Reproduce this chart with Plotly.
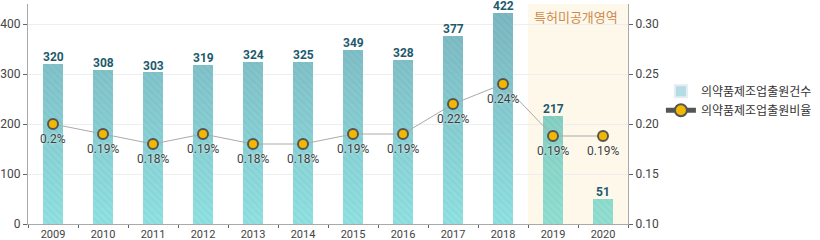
import plotly.graph_objects as go

years = ["2009", "2010", "2011", "2012", "2013", "2014", "2015", "2016", "2017", "2018", "2019", "2020"]
counts = [320, 308, 303, 319, 324, 325, 349, 328, 377, 422, 217, 51]
ratios = [0.20, 0.19, 0.18, 0.19, 0.18, 0.18, 0.19, 0.19, 0.22, 0.24, 0.188, 0.188]
ratio_labels = ["0.2%", "0.19%", "0.18%", "0.19%", "0.18%", "0.18%", "0.19%", "0.19%", "0.22%", "0.24%", "0.19%", "0.19%"]
unpublished = ["2019", "2020"]

bar_name = "의약품제조업출원건수"
line_name = "의약품제조업출원비율"
area_label = "특허미공개영역"

FONT = "Roboto, 'Noto Sans CJK KR', sans-serif"

# gradient colours (bottom -> top of the y scale)
bottom_rgb = (145, 226, 226)
top_rgb = (124, 184, 194)
bottom_rgb_u = (145, 224, 210)
top_rgb_u = (124, 192, 184)

def mix(a, b, t):
    return "rgb(%d,%d,%d)" % tuple(round(a[i] + (b[i] - a[i]) * t) for i in range(3))

fig = go.Figure()

band = 20
ymax = 440
nb = ymax // band
for k in range(nb):
    lo = k * band
    t = min((lo + band / 2) / 420, 1)
    heights = [max(0, min(band, c - lo)) for c in counts]
    cols = [mix(bottom_rgb_u, top_rgb_u, t) if y in unpublished else mix(bottom_rgb, top_rgb, t) for y in years]
    fig.add_trace(go.Bar(
        x=years, y=heights, width=0.4,
        marker=dict(color=cols, line=dict(width=0),
                    pattern=dict(shape="\\", fgcolor="#ffffff", fgopacity=0.08, size=5, solidity=0.25)),
        showlegend=False, hoverinfo="skip", yaxis="y",
    ))

# legend proxy for bars
fig.add_trace(go.Bar(x=[None], y=[None], name=bar_name, marker=dict(color="#b3dde2"), showlegend=True))

fig.add_trace(go.Scatter(
    x=years, y=ratios, yaxis="y2", name=line_name, mode="lines+markers", showlegend=False,
    line=dict(color="#aaaaaa", width=1),
    marker=dict(size=10, color="#f2b800", line=dict(color="#555555", width=2)),
))
# legend proxy for the line
fig.add_trace(go.Scatter(
    x=[None], y=[None], yaxis="y2", name=line_name, mode="lines+markers",
    line=dict(color="#555555", width=2),
    marker=dict(size=10, color="#f2b800", line=dict(color="#555555", width=2)),
))

ann = []
for i, c in enumerate(counts):
    ann.append(dict(x=i, y=c, xref="x", yref="y", text="<b>%d</b>" % c, showarrow=False,
                    yanchor="bottom", yshift=-2, font=dict(family=FONT, size=12, color="#1e5a6e")))
for i, (r, lab) in enumerate(zip(ratios, ratio_labels)):
    ann.append(dict(x=i, y=r, xref="x", yref="y2", text=lab, showarrow=False,
                    yanchor="top", yshift=-6,
                    font=dict(family=FONT, size=12, color="#3f3f3f", shadow="0px 0px 3px #ffffff")))
ann.append(dict(x=11.5, y=1, xref="x", yref="paper", text=area_label, showarrow=False,
                xanchor="right", yanchor="top", xshift=-8, yshift=-4,
                font=dict(family=FONT, size=13, color="#cf8a4e")))

fig.update_layout(
    width=820, height=240,
    margin=dict(l=28, r=192, t=4, b=16, autoexpand=False),
    paper_bgcolor="white", plot_bgcolor="white",
    barmode="stack", bargap=0.6,
    font=dict(family=FONT, size=12, color="#444444"),
    shapes=[dict(type="rect", xref="x", yref="paper", x0=9.5, x1=11.5, y0=0, y1=1,
                 fillcolor="#fdf8ea", line=dict(width=0), layer="below")],
    annotations=ann,
    xaxis=dict(type="category", range=[-0.5, 11.5], showgrid=False, automargin=False,
               showline=True, linecolor="#aaaaaa", linewidth=1,
               ticks="outside", tickson="boundaries", ticklen=3, tickcolor="#666666",
               ticklabelstandoff=0,
               tickfont=dict(size=11, color="#444444")),
    yaxis=dict(range=[0, 440], tickvals=[0, 100, 200, 300, 400], showgrid=True, gridcolor="#eeeeee",
               automargin=False,
               showline=True, linecolor="#aaaaaa", ticks="outside", ticklen=4, tickcolor="#666666",
               zeroline=False, tickfont=dict(size=12, color="#444444")),
    yaxis2=dict(range=[0.10, 0.32], tickvals=[0.10, 0.15, 0.20, 0.25, 0.30], tickformat=".2f",
                automargin=False,
                overlaying="y", side="right", showgrid=False, showline=True, linecolor="#aaaaaa",
                ticks="outside", ticklen=4, tickcolor="#666666", zeroline=False,
                tickfont=dict(size=12, color="#444444")),
    legend=dict(xref="container", yref="container", x=0.806, y=0.68, xanchor="left", yanchor="top",
                bgcolor="rgba(0,0,0,0)", traceorder="normal",
                font=dict(size=12, color="#333333"), tracegroupgap=2, itemsizing="constant"),
)

fig.write_html("out.html")
